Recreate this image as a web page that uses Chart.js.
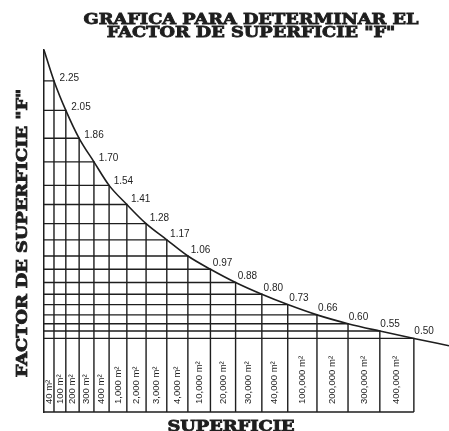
<!DOCTYPE html>
<html>
<head>
<meta charset="utf-8">
<script src="https://cdn.jsdelivr.net/npm/chart.js@4"></script>
<style>
  body { margin: 0; background: #fff; }
</style>
</head>
<body>
<canvas id="chart" width="449" height="431"></canvas>
<script>
// surface areas (columns) and the surface factor F read at each one
const areas = ["40 m²", "100 m²", "200 m²", "300 m²", "400 m²", "1,000 m²", "2,000 m²", "3,000 m²", "4,000 m²",
  "10,000 m²", "20,000 m²", "30,000 m²", "40,000 m²", "100,000 m²", "200,000 m²", "300,000 m²", "400,000 m²"];
const factor = [2.25, 2.05, 1.86, 1.70, 1.54, 1.41, 1.28, 1.17, 1.06, 0.97, 0.88, 0.80, 0.73, 0.66, 0.60, 0.55, 0.50];
// where each area line sits along the (hand drawn, uneven) horizontal axis, 0-100
const station = [2.7, 5.9, 9.5, 13.5, 17.6, 22.4, 27.6, 33.2, 38.9, 45.0, 51.8, 58.9, 65.9, 73.8, 82.2, 90.8, 100];
// the curve runs a little past the first and last marks
const curveStart = [0, 2.46];
const curveEnd = [109.5, 0.45];

const titleLines = ['GRAFICA PARA DETERMINAR EL', 'FACTOR DE SUPERFICIE "F"'];
const yTitle = 'FACTOR DE SUPERFICIE "F"';
const xTitle = 'SUPERFICIE';

const ink = '#1e1e1e';

// staircase grid: base line, then down to the base and back to the axis from every mark
const last = station[station.length - 1];
const steps = [{x: 0, y: 0}, {x: last, y: 0}, {x: 0, y: null}];
factor.forEach((f, i) => {
  steps.push({x: station[i], y: 0}, {x: station[i], y: f}, {x: 0, y: f}, {x: 0, y: null});
});

const curve = [{x: curveStart[0], y: curveStart[1]}]
  .concat(factor.map((f, i) => ({x: station[i], y: f})))
  .concat([{x: curveEnd[0], y: curveEnd[1]}]);

function wide(ctx, text, cx, base, angle) {
  ctx.save();
  ctx.translate(cx, base);
  ctx.rotate(angle);
  ctx.scale(1.27, 1);
  ctx.font = 'bold 14px "DejaVu Serif"';
  ctx.textAlign = 'center';
  ctx.textBaseline = 'alphabetic';
  ctx.fillStyle = ink;
  ctx.strokeStyle = ink;
  ctx.lineWidth = 0.8;
  ctx.fillText(text, 0, 0);
  ctx.strokeText(text, 0, 0);
  ctx.restore();
}

const lettering = {
  id: 'lettering',
  afterDraw(chart) {
    const {ctx, scales: {x, y}} = chart;
    ctx.save();
    ctx.fillStyle = ink;

    // value of F beside each mark, pushed out along the curve normal
    ctx.font = '10px "Liberation Sans"';
    ctx.textAlign = 'left';
    ctx.textBaseline = 'middle';
    const pts = chart.getDatasetMeta(1).data;
    factor.forEach((f, i) => {
      const p = pts[i + 1], prev = pts[i], next = pts[i + 2];
      let tx = next.x - prev.x, ty = next.y - prev.y;
      const len = Math.hypot(tx, ty);
      tx /= len; ty /= len;
      ctx.fillText(f.toFixed(2), p.x + ty * 7 - 1, p.y - tx * 7);
    });

    // area names standing in their columns
    ctx.font = '9.5px "Liberation Sans"';
    const base = y.getPixelForValue(0) - 8;
    areas.forEach((lab, i) => {
      const cx = (x.getPixelForValue(i ? station[i - 1] : 0) + x.getPixelForValue(station[i])) / 2;
      ctx.save();
      ctx.translate(cx, base);
      ctx.rotate(-Math.PI / 2);
      ctx.fillText(lab, 0, 0);
      ctx.restore();
    });
    ctx.restore();

    wide(ctx, titleLines[0], 251, 23.5, 0);
    wide(ctx, titleLines[1], 251, 36.5, 0);
    wide(ctx, yTitle, 27, 233, -Math.PI / 2);
    wide(ctx, xTitle, 231, 430.5, 0);
  }
};

new Chart(document.getElementById('chart'), {
  type: 'scatter',
  data: {
    datasets: [
      {
        label: 'grid',
        data: steps,
        showLine: true,
        spanGaps: false,
        borderColor: ink,
        borderWidth: 1.4,
        pointRadius: 0,
        clip: false
      },
      {
        label: 'F',
        data: curve,
        showLine: true,
        borderColor: ink,
        borderWidth: 1.6,
        pointRadius: 0,
        cubicInterpolationMode: 'monotone',
        clip: false
      }
    ]
  },
  options: {
    responsive: false,
    animation: false,
    devicePixelRatio: 1,
    layout: { padding: { top: 50, left: 44, right: 0, bottom: 19 } },
    plugins: {
      legend: { display: false },
      tooltip: { enabled: false },
      title: { display: false }
    },
    scales: {
      x: {
        type: 'linear', min: 0, max: curveEnd[0],
        ticks: { display: false },
        grid: { display: false, drawTicks: false },
        border: { display: false }
      },
      y: {
        type: 'linear', min: 0, max: 2.46,
        ticks: { display: false },
        grid: { display: false, drawTicks: false },
        border: { color: ink, width: 1.5 }
      }
    }
  },
  plugins: [lettering]
});
</script>
</body>
</html>
